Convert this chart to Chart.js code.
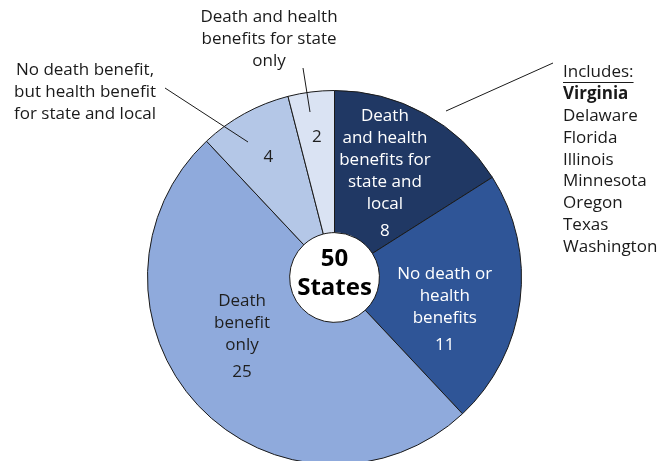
<!DOCTYPE html>
<html>
<head>
<meta charset="utf-8">
<script src="https://cdn.jsdelivr.net/npm/chart.js@4"></script>
<style>
  html, body { margin: 0; padding: 0; background: #fff; overflow: hidden; }
  #wrap { position: absolute; left: 0; top: 0; width: 658px; height: 470px; }
</style>
</head>
<body>
<div id="wrap"><canvas id="c"></canvas></div>
<script>
// ---- data ----
const categories = [
  "Death and health benefits for state and local",
  "No death or health benefits",
  "Death benefit only",
  "No death benefit, but health benefit for state and local",
  "Death and health benefits for state only"
];
const stateCounts = [8, 11, 25, 4, 2];
const insideLabels = [
  ["Death", "and health", "benefits for", "state and", "local"],
  ["No death or", "health", "benefits"],
  ["Death", "benefit", "only"],
  [],
  []
];
const includesStates = ["Virginia", "Delaware", "Florida", "Illinois", "Minnesota", "Oregon", "Texas", "Washington"];
const centerText = ["50", "States"];

// ---- styles ----
const sliceColors = ["#203864", "#2F5597", "#8FAADC", "#B4C7E7", "#DAE3F3"];
const labelColors = ["#FFFFFF", "#FFFFFF", "#1F1F1F", "#1F1F1F", "#1F1F1F"];
// label placement: [angle (deg, canvas convention, 0 = 3 o'clock), radius fraction]
const labelPlace = [[-64.1, 0.617], [16.2, 0.614], [147.2, 0.588], [null, 0.734], [null, 0.755]];
const FONT = "'Open Sans', 'Noto Sans', sans-serif";
const FS = 17;

const overlay = {
  id: "overlay",
  afterDraw(chart) {
    const ctx = chart.ctx;
    const meta = chart.getDatasetMeta(0);
    ctx.save();
    // slice labels
    meta.data.forEach((arc, i) => {
      const p = arc.getProps(["x", "y", "startAngle", "endAngle", "outerRadius"], true);
      let ang = labelPlace[i][0] === null ? (p.startAngle + p.endAngle) / 2 : labelPlace[i][0] * Math.PI / 180;
      const r = p.outerRadius * labelPlace[i][1];
      const cx = p.x + Math.cos(ang) * r;
      const cy = p.y + Math.sin(ang) * r;
      const lines = insideLabels[i];
      const lh = 22, gap = 27;
      const span = lines.length ? (lines.length - 1) * lh + gap : 0;
      let y = cy - span / 2;
      ctx.fillStyle = labelColors[i];
      ctx.font = FS + "px " + FONT;
      ctx.textAlign = "center";
      ctx.textBaseline = "middle";
      lines.forEach((t, k) => ctx.fillText(t, cx, y + k * lh));
      ctx.fillText(String(stateCounts[i]), cx, lines.length ? y + (lines.length - 1) * lh + gap : cy);
    });
    // center text
    const c0 = meta.data[0];
    ctx.fillStyle = "#000";
    ctx.font = "bold 24px " + FONT;
    ctx.fillText(centerText[0], c0.x, c0.y - 18);
    ctx.fillText(centerText[1], c0.x, c0.y + 11);

    // external labels
    ctx.fillStyle = "#1A1A1A";
    ctx.font = FS + "px " + FONT;
    ctx.textAlign = "center";
    ["Death and health", "benefits for state", "only"].forEach((t, k) => ctx.fillText(t, 269, 17 + k * 22));
    ["No death benefit,", "but health benefit", "for state and local"].forEach((t, k) => ctx.fillText(t, 85, 70 + k * 22));

    // leader lines
    ctx.strokeStyle = "#1A1A1A";
    ctx.lineWidth = 1;
    ctx.beginPath();
    ctx.moveTo(303, 68); ctx.lineTo(310, 112);
    ctx.moveTo(165, 88); ctx.lineTo(248, 142);
    ctx.moveTo(446, 111); ctx.lineTo(553, 63);
    ctx.stroke();

    // includes list
    ctx.textAlign = "left";
    ctx.font = FS + "px " + FONT;
    ctx.fillText("Includes:", 563, 72);
    const w = ctx.measureText("Includes:").width;
    ctx.beginPath();
    ctx.moveTo(563, 82.5); ctx.lineTo(563 + w, 82.5);
    ctx.stroke();
    includesStates.forEach((s, k) => {
      ctx.font = (k === 0 ? "bold " : "") + FS + "px " + FONT;
      ctx.fillText(s, 563, 94 + k * 21.9);
    });
    ctx.restore();
  }
};

new Chart(document.getElementById("c"), {
  type: "doughnut",
  data: {
    labels: categories,
    datasets: [{
      data: stateCounts,
      backgroundColor: sliceColors,
      borderColor: "#1A1A1A",
      borderWidth: 1,
      hoverOffset: 0
    }]
  },
  options: {
    responsive: true,
    maintainAspectRatio: false,
    devicePixelRatio: 1,
    animation: false,
    cutout: "24%",
    rotation: 0,
    layout: { padding: { top: 90, bottom: 5, left: 147, right: 136 } },
    plugins: { legend: { display: false }, tooltip: { enabled: false } }
  },
  plugins: [overlay]
});
</script>
</body>
</html>
